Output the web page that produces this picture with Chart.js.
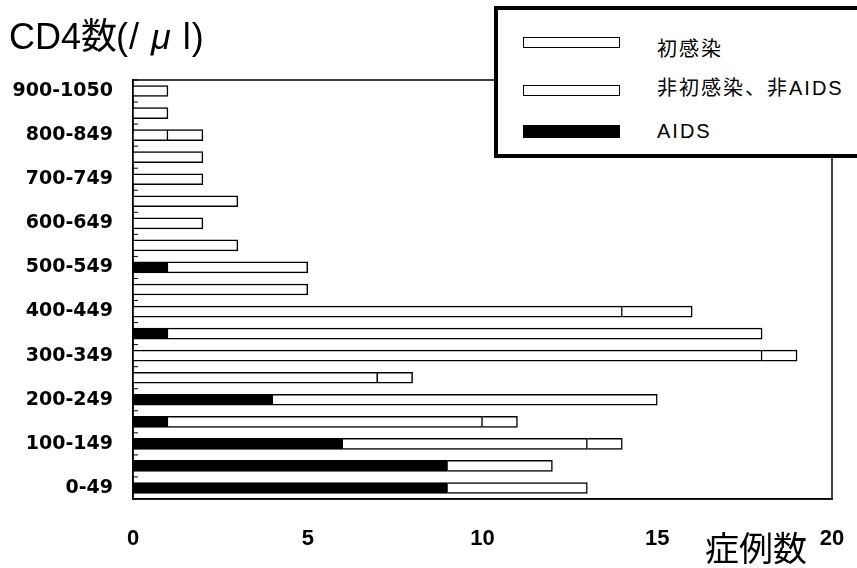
<!DOCTYPE html>
<html>
<head>
<meta charset="utf-8">
<script src="https://cdn.jsdelivr.net/npm/chart.js@4.4.1/dist/chart.umd.min.js"></script>
<style>
  html,body{margin:0;padding:0;background:#fff;}
  #wrap{position:relative;width:857px;height:568px;overflow:hidden;}
  canvas{position:absolute;left:0;top:0;}
  .t{position:absolute;white-space:nowrap;line-height:1;color:#000;font-family:"Liberation Sans","Noto Sans CJK JP",sans-serif;}
  .title{left:9px;top:19px;font-size:36px;}
  .title2{left:116px;top:19px;font-size:36px;letter-spacing:1px;}
  .xtitle{left:705px;top:530px;font-family:"Noto Sans CJK JP","Liberation Sans",sans-serif;font-size:34px;}
  .legend{position:absolute;left:494px;top:6px;width:380px;height:152px;border:4px solid #000;background:#fff;box-sizing:border-box;}
  .sw{position:absolute;left:523px;width:97px;box-sizing:border-box;border:1.5px solid #000;background:#fff;}
  .sw.black{background:#000;}
  .lab{left:657px;font-size:20px;letter-spacing:2px;}
</style>
</head>
<body>
<div id="wrap">
  <canvas id="c" width="857" height="568"></canvas>
  <div class="t title">CD4数</div>
  <div class="t title2">(/ <i>μ</i> l)</div>
  <div class="legend"></div>
  <div class="sw" style="top:37px;height:11px"></div>
  <div class="t lab" style="top:39px">初感染</div>
  <div class="sw" style="top:85px;height:11px"></div>
  <div class="t lab" style="top:78px">非初感染、非AIDS</div>
  <div class="sw black" style="top:125px;height:13px"></div>
  <div class="t lab" style="top:121px">AIDS</div>
  <div class="t xtitle">症例数</div>
</div>
<script>
const categories = ["0-49","50-99","100-149","150-199","200-249","250-299","300-349","350-399","400-449","450-499","500-549","550-599","600-649","650-699","700-749","750-799","800-849","850-899","900-1050"];
const aidsValues    = [9,9,6,1,4,0,0,1,0,0,1,0,0,0,0,0,0,0,0];
const otherValues   = [4,3,7,9,11,7,18,17,14,5,4,3,2,3,2,2,1,1,1];
const initialValues = [0,0,1,1,0,1,1,0,2,0,0,0,0,0,0,0,1,0,0];
const xTicks = [0,5,10,15,20];
const seriesNames = ["AIDS","非初感染、非AIDS","初感染"];

const frame = {
  id:'frame',
  afterDraw(chart){
    const {ctx, chartArea:a, scales} = chart;
    ctx.save();
    ctx.strokeStyle='#000';
    ctx.lineWidth=1.5;
    ctx.strokeRect(a.left, a.top, a.right-a.left, a.bottom-a.top);
    const y = scales.y;
    const half = Math.abs(y.getPixelForValue(0)-y.getPixelForValue(1))/2;
    ctx.lineWidth=1;
    for(let i=0;i<categories.length;i++){
      const p = y.getPixelForValue(i) - half;
      ctx.beginPath(); ctx.moveTo(a.left, p); ctx.lineTo(a.left+5, p); ctx.stroke();
    }
    ctx.restore();
  }
};

const yFont = {family:'"DejaVu Sans", sans-serif', size:19, weight:'bold'};
const xFont = {family:'"Liberation Sans", Arial, sans-serif', size:22, weight:'bold'};

new Chart(document.getElementById('c'), {
  type:'bar',
  data:{
    labels:categories,
    datasets:[
      {label:seriesNames[0], data:aidsValues, backgroundColor:'#000', borderColor:'#000', borderWidth:1.5, barThickness:11},
      {label:seriesNames[1], data:otherValues, backgroundColor:'#fff', borderColor:'#000', borderWidth:1.5, barThickness:11},
      {label:seriesNames[2], data:initialValues, backgroundColor:'#fff', borderColor:'#000', borderWidth:1.5, barThickness:11}
    ]
  },
  options:{
    indexAxis:'y',
    responsive:false,
    animation:false,
    layout:{padding:{top:80,right:25,left:0,bottom:0}},
    plugins:{legend:{display:false}, tooltip:{enabled:false}},
    scales:{
      x:{
        stacked:true, min:0, max:20,
        afterBuildTicks(s){ s.ticks = xTicks.map(v=>({value:v})); },
        grid:{display:false}, border:{display:true,color:'#000',width:1.5},
        ticks:{color:'#000', font:xFont, padding:19, maxRotation:0, autoSkip:false},
        afterFit(s){ s.height = 69; s.paddingRight = 0; s.paddingLeft = 0; }
      },
      y:{
        stacked:true, reverse:true,
        grid:{display:false}, border:{display:true,color:'#000',width:1.5},
        ticks:{color:'#000', font:yFont, padding:12, autoSkip:false,
          callback(v,i){ return i%2===0 ? categories[i] : ''; }},
        afterFit(s){ s.width = 133; }
      }
    }
  },
  plugins:[frame]
});
</script>
</body>
</html>
